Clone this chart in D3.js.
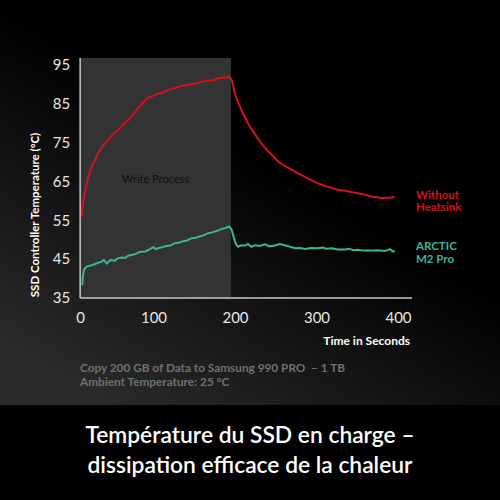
<html>
<head>
    <title>SSD Controller Temperature</title>
    <script src="https://cdn.jsdelivr.net/npm/d3@7/dist/d3.min.js" charset="utf-8"></script>
    <style>
        body { margin: 0; background: #000; }
        svg { display: block; font-family: "Lato", "Noto Sans", sans-serif; }
        .pre { white-space: pre; }
    </style>
</head>
<body>
<script>
    // red curve: without heatsink
    var redTime = [12,13,14,17,20,24,28,32,36,40,44.5,50,57,63,69,75,81,86,92,98,106,112,118,126,133,140,147,154,160,167,174,180,184,188,192,194,196,198,200,202,205,208,212,216,221,226.6,233,241,247,253,261,270,278,286,294,302,310,319,327,335,343,351,360,368,374,380,386,391,396];
    var redTemp = [55.9,58.5,60.2,63.5,66.2,68.6,70.5,72.2,73.6,74.6,75.7,77.2,78.3,79.8,80.8,82.3,83.9,85.0,86.4,86.9,87.7,87.9,88.6,89.0,89.6,89.8,90.1,90.3,90.7,91.0,91.1,91.6,91.8,91.7,92.0,91.8,91.1,89.5,87.5,86.4,84.8,83.3,81.6,80.0,78.3,76.5,74.6,72.7,71.5,70.1,69.0,68.0,67.0,66.2,65.3,64.5,63.9,63.3,62.8,62.6,62.3,62.0,61.6,61.1,61.0,60.7,60.8,60.8,61.1];

    // teal curve: ARCTIC M2 Pro
    var tealTime = [12.6,13.5,15,18,23,28,32,36,39,42.6,46,48.7,52,56,61,65,69,73,78,82,85.5,90,95,99.8,103,106,111,116,121,126,131,136,141,147,152,157,162,167,172,178,184,188,192.6,195,196,198,200,202,204,208,212,216,220,225,230,236.8,242,249,255,261,266,273.6,280,286,293,302,308,312,318.7,326,335,340,345,351,358,367.7,375,384,388,390,393,396];
    var tealTemp = [38.3,40.9,42.4,43.1,43.4,43.7,44.1,44.3,44.8,43.9,44.6,44.8,44.5,45.2,45.4,45.3,45.9,46.1,46.3,46.8,46.9,47.0,47.5,48.1,47.6,47.8,48.1,48.4,48.5,49.1,49.2,49.6,49.8,50.4,50.5,50.9,51.2,51.7,51.9,52.3,52.8,53.0,53.4,52.9,52.5,51.0,49.5,48.6,48.2,48.6,48.5,48.9,48.2,48.6,48.4,48.8,48.3,48.5,48.9,48.6,48.3,47.8,47.9,47.6,47.9,47.8,48.0,47.7,47.8,47.5,47.5,47.7,47.3,47.4,47.2,47.2,47.3,47.1,47.4,47.6,47.1,46.9];

    var xTicks = [0, 100, 200, 300, 400];
    var yTicks = [35, 45, 55, 65, 75, 85, 95];
    var writeStart = 10, writeEnd = 195;

    var width = 500, height = 500;

    var svg = d3.select("body").append("svg")
        .attr("width", width)
        .attr("height", height);

    var defs = svg.append("defs");
    var grad = defs.append("linearGradient")
        .attr("id", "bg")
        .attr("x1", "0.6").attr("y1", "0.45")
        .attr("x2", "0.2").attr("y2", "1");
    grad.append("stop").attr("offset", "0").attr("stop-color", "#000");
    grad.append("stop").attr("offset", "1").attr("stop-color", "#2b2b2b");

    svg.append("rect").attr("width", width).attr("height", 405).attr("fill", "url(#bg)");
    svg.append("rect").attr("y", 405).attr("width", width).attr("height", 95).attr("fill", "#000");

    var x = d3.scaleLinear().domain([0, 400]).range([72, 398]);
    var y = d3.scaleLinear().domain([35, 95]).range([298, 65]);

    // write process shading
    svg.append("rect")
        .attr("x", x(writeStart))
        .attr("y", 58)
        .attr("width", x(writeEnd) - x(writeStart))
        .attr("height", y(35) - 58)
        .attr("fill", "#333333");

    svg.append("text")
        .attr("x", 122).attr("y", 183)
        .attr("font-size", 11)
        .attr("fill", "#111")
        .text("Write Process");

    // axes
    var xAxis = svg.append("g")
        .attr("transform", "translate(0," + y(35) + ")")
        .call(d3.axisBottom(x).tickValues(xTicks).tickSize(0).tickPadding(14));
    xAxis.select(".domain").remove();
    xAxis.selectAll("text")
        .attr("font-size", 15).attr("fill", "#e6e6e6")
        .attr("font-family", "Lato")
        .attr("dx", function(d) { return d === 0 ? 8 : 0; });

    var yAxis = svg.append("g")
        .attr("transform", "translate(" + x(writeStart) + ",0)")
        .call(d3.axisLeft(y).tickValues(yTicks).tickSize(0).tickPadding(10));
    yAxis.select(".domain").remove();
    yAxis.selectAll("text")
        .attr("font-size", 15).attr("fill", "#e6e6e6")
        .attr("font-family", "Lato");

    svg.append("line")
        .attr("x1", x(writeStart)).attr("x2", x(writeStart))
        .attr("y1", 58).attr("y2", y(35))
        .attr("stroke", "#c8c8c8").attr("stroke-width", 1.5);
    svg.append("line")
        .attr("x1", x(writeStart)).attr("x2", 412)
        .attr("y1", y(35)).attr("y2", y(35))
        .attr("stroke", "#c8c8c8").attr("stroke-width", 1.5);

    // lines
    var line = d3.line()
        .x(function(d) { return x(d[0]); })
        .y(function(d) { return y(d[1]); });

    svg.append("path")
        .datum(d3.zip(redTime, redTemp))
        .attr("fill", "none")
        .attr("stroke", "#d3111f")
        .attr("stroke-width", 2)
        .attr("d", line);

    svg.append("path")
        .datum(d3.zip(tealTime, tealTemp))
        .attr("fill", "none")
        .attr("stroke", "#3db39b")
        .attr("stroke-width", 2)
        .attr("d", line);

    // legend labels, two lines each
    var legend = svg.append("g").attr("font-size", 11.5).attr("font-weight", "bold");
    var l1 = legend.append("text").attr("x", 416).attr("y", 199).attr("fill", "#d3111f");
    l1.append("tspan").attr("x", 416).text("Without");
    l1.append("tspan").attr("x", 416).attr("dy", 12).text("Heatsink");
    var l2 = legend.append("text").attr("x", 416).attr("y", 250).attr("fill", "#3db39b");
    l2.append("tspan").attr("x", 416).text("ARCTIC");
    l2.append("tspan").attr("x", 416).attr("dy", 12.5).text("M2 Pro");

    // axis titles
    svg.append("text")
        .attr("x", 410).attr("y", 345)
        .attr("text-anchor", "end")
        .attr("font-size", 12).attr("font-weight", "bold")
        .attr("fill", "#fff")
        .text("Time in Seconds");

    svg.append("text")
        .attr("transform", "translate(39,215) rotate(-90)")
        .attr("text-anchor", "middle")
        .attr("font-size", 11.5).attr("font-weight", "bold")
        .attr("fill", "#fff")
        .text("SSD Controller Temperature (°C)");

    // notes
    svg.append("text")
        .attr("class", "pre")
        .attr("x", 80).attr("y", 372)
        .attr("font-size", 11.8).attr("font-weight", "bold")
        .attr("fill", "#707070")
        .text("Copy 200 GB of Data to Samsung 990 PRO  – 1 TB");
    svg.append("text")
        .attr("x", 80).attr("y", 386)
        .attr("font-size", 11.8).attr("font-weight", "bold")
        .attr("fill", "#707070")
        .text("Ambient Temperature: 25 °C");

    // title
    svg.append("text")
        .attr("x", 250).attr("y", 443)
        .attr("text-anchor", "middle")
        .attr("font-size", 22.8).attr("font-weight", 600)
        .attr("fill", "#fff")
        .text("Température du SSD en charge –");
    svg.append("text")
        .attr("x", 250).attr("y", 473)
        .attr("text-anchor", "middle")
        .attr("font-size", 22.8).attr("font-weight", 600)
        .attr("fill", "#fff")
        .text("dissipation efficace de la chaleur");
</script>
</body>
</html>
